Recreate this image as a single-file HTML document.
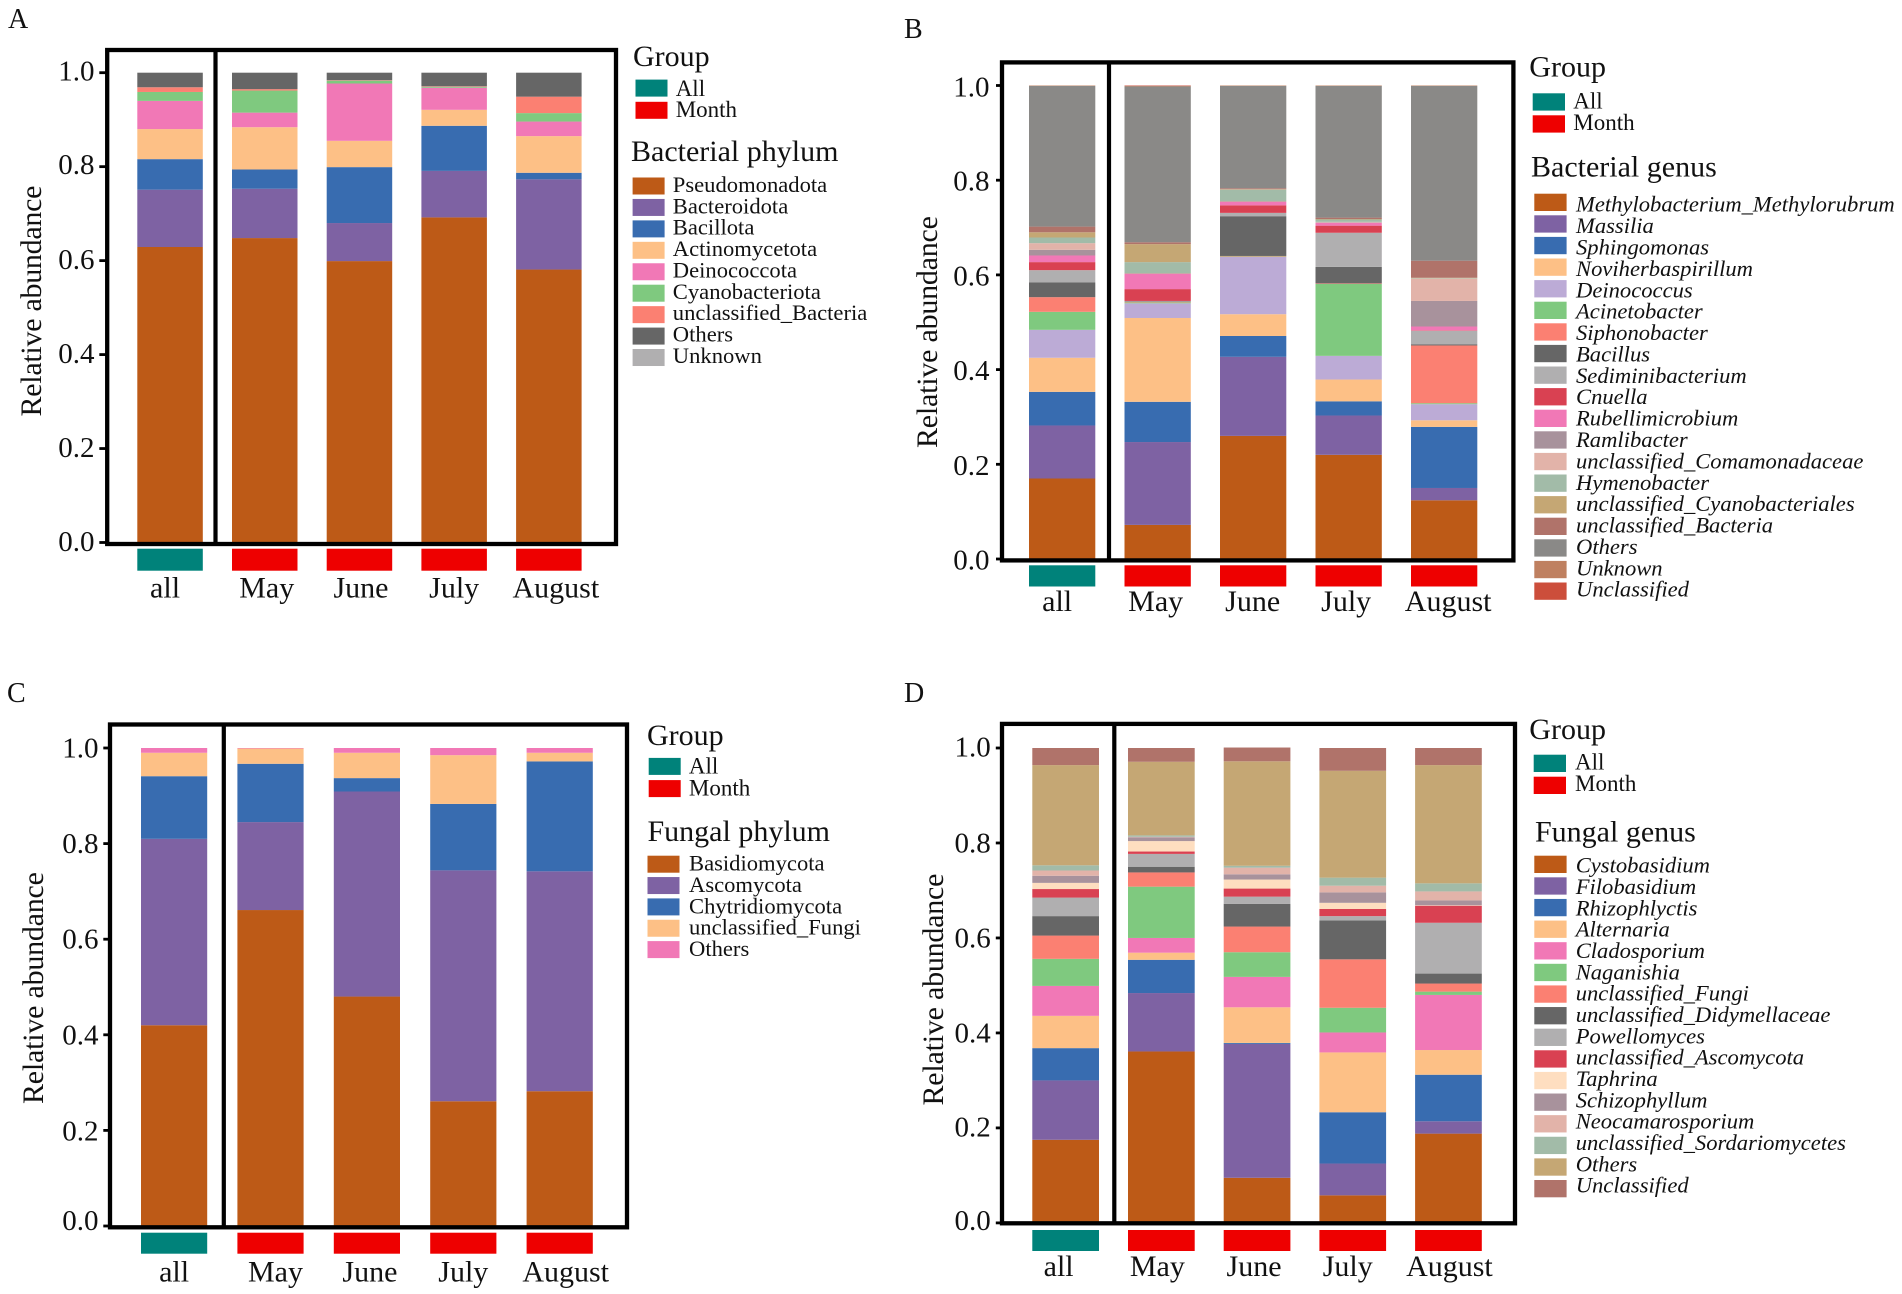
<!DOCTYPE html>
<html lang="en">
<head>
<meta charset="utf-8">
<title>Relative abundance of microbial taxa</title>
<style>
html,body{margin:0;padding:0;background:#fff;width:1902px;height:1294px;overflow:hidden}
svg{display:block}
text{font-family:"Liberation Serif","Times New Roman",serif;fill:#111}
.title{font-size:30px}
.ytitle{font-size:30px}
.letter{font-size:28px}
</style>
</head>
<body>
<svg id="figure" width="1902" height="1294" viewBox="0 0 1902 1294" xmlns="http://www.w3.org/2000/svg">
  <rect x="0" y="0" width="1902" height="1294" fill="#ffffff"/>

  <g id="panel-a">
    <text class="letter" x="8" y="28">A</text>
    <text class="ytitle" transform="translate(41,301) rotate(-90)" text-anchor="middle" textLength="231">Relative abundance</text>
    <text class="title" x="633" y="66">Group</text>
    <text class="title" x="631" y="161">Bacterial phylum</text>
  </g>
  <g id="panel-b">
    <text class="letter" x="904" y="38">B</text>
    <text class="ytitle" transform="translate(937,332) rotate(-90)" text-anchor="middle" textLength="232">Relative abundance</text>
    <text class="title" x="1529.3" y="76.7">Group</text>
    <text class="title" x="1531" y="176.7">Bacterial genus</text>
  </g>
  <g id="panel-c">
    <text class="letter" x="7" y="702">C</text>
    <text class="ytitle" transform="translate(43,988) rotate(-90)" text-anchor="middle" textLength="232">Relative abundance</text>
    <text class="title" x="647" y="745">Group</text>
    <text class="title" x="647.5" y="841">Fungal phylum</text>
  </g>
  <g id="panel-d">
    <text class="letter" x="904" y="702">D</text>
    <text class="ytitle" transform="translate(943,989.5) rotate(-90)" text-anchor="middle" textLength="232">Relative abundance</text>
    <text class="title" x="1529.3" y="739">Group</text>
    <text class="title" x="1535" y="841.7">Fungal genus</text>
  </g>
</svg>

<script>
// ---- shared categories and axis labels ----
const categories = ['all', 'May', 'June', 'July', 'August'];
const groupOfCategory = ['All', 'Month', 'Month', 'Month', 'Month'];
const groupNames = ['All', 'Month'];
const tickValues = [0, 0.2, 0.4, 0.6, 0.8, 1];
const tickLabels = ['0.0', '0.2', '0.4', '0.6', '0.8', '1.0'];

// ---- panel A: bacterial phylum (all, May, June, July, August) ----
const aNames = ['Pseudomonadota', 'Bacteroidota', 'Bacillota', 'Actinomycetota', 'Deinococcota', 'Cyanobacteriota', 'unclassified_Bacteria', 'Others', 'Unknown'];
const aPseudomonadota = [0.629, 0.648, 0.599, 0.692, 0.581];
const aBacteroidota = [0.122, 0.105, 0.081, 0.099, 0.192];
const aBacillota = [0.065, 0.041, 0.119, 0.096, 0.014];
const aActinomycetota = [0.064, 0.090, 0.056, 0.034, 0.078];
const aDeinococcota = [0.060, 0.031, 0.122, 0.047, 0.031];
const aCyanobacteriota = [0.019, 0.047, 0.006, 0.002, 0.018];
const aUnclassifiedBacteria = [0.010, 0.003, 0.001, 0.001, 0.035];
const aOthers = [0.031, 0.035, 0.016, 0.029, 0.051];
const aUnknown = [0, 0, 0, 0, 0];

// ---- panel B: bacterial genus ----
const bNames = ['Methylobacterium_Methylorubrum', 'Massilia', 'Sphingomonas', 'Noviherbaspirillum', 'Deinococcus', 'Acinetobacter', 'Siphonobacter', 'Bacillus', 'Sediminibacterium', 'Cnuella', 'Rubellimicrobium', 'Ramlibacter', 'unclassified_Comamonadaceae', 'Hymenobacter', 'unclassified_Cyanobacteriales', 'unclassified_Bacteria', 'Others', 'Unknown', 'Unclassified'];
const bMethylobacterium = [0.170, 0.072, 0.260, 0.220, 0.124];
const bMassilia = [0.112, 0.175, 0.167, 0.083, 0.026];
const bSphingomonas = [0.071, 0.085, 0.044, 0.030, 0.129];
const bNoviherbaspirillum = [0.072, 0.177, 0.046, 0.046, 0.014];
const bDeinococcus = [0.059, 0.031, 0.121, 0.050, 0.034];
const bAcinetobacter = [0.038, 0.002, 0.001, 0.152, 0.002];
const bSiphonobacter = [0.031, 0.001, 0.001, 0.001, 0.122];
const bBacillus = [0.031, 0.001, 0.084, 0.035, 0.002];
const bSediminibacterium = [0.026, 0.001, 0.007, 0.072, 0.029];
const bCnuella = [0.017, 0.025, 0.016, 0.015, 0.001];
const bRubellimicrobium = [0.014, 0.032, 0.007, 0.006, 0.008];
const bRamlibacter = [0.012, 0.001, 0.001, 0.001, 0.054];
const bComamonadaceae = [0.014, 0.001, 0.001, 0.001, 0.047];
const bHymenobacter = [0.012, 0.023, 0.024, 0.005, 0.001];
const bCyanobacteriales = [0.011, 0.038, 0.001, 0.001, 0.001];
const bUnclassifiedBacteria = [0.012, 0.004, 0.002, 0.003, 0.036];
const bOthers = [0.297, 0.329, 0.216, 0.278, 0.369];
const bUnknown = [0.001, 0.001, 0.001, 0.001, 0.001];
const bUnclassified = [0, 0.001, 0, 0, 0];

// ---- panel C: fungal phylum ----
const cNames = ['Basidiomycota', 'Ascomycota', 'Chytridiomycota', 'unclassified_Fungi', 'Others'];
const cBasidiomycota = [0.420, 0.661, 0.480, 0.261, 0.282];
const cAscomycota = [0.390, 0.184, 0.429, 0.483, 0.460];
const cChytridiomycota = [0.131, 0.122, 0.028, 0.139, 0.230];
const cUnclassifiedFungi = [0.049, 0.032, 0.053, 0.102, 0.018];
const cOthers = [0.010, 0.001, 0.010, 0.015, 0.010];

// ---- panel D: fungal genus ----
const dNames = ['Cystobasidium', 'Filobasidium', 'Rhizophlyctis', 'Alternaria', 'Cladosporium', 'Naganishia', 'unclassified_Fungi', 'unclassified_Didymellaceae', 'Powellomyces', 'unclassified_Ascomycota', 'Taphrina', 'Schizophyllum', 'Neocamarosporium', 'unclassified_Sordariomycetes', 'Others', 'Unclassified'];
const dCystobasidium = [0.175, 0.361, 0.095, 0.058, 0.188];
const dFilobasidium = [0.125, 0.123, 0.282, 0.067, 0.026];
const dRhizophlyctis = [0.068, 0.070, 0.002, 0.108, 0.098];
const dAlternaria = [0.068, 0.015, 0.075, 0.126, 0.052];
const dCladosporium = [0.063, 0.031, 0.064, 0.042, 0.116];
const dNaganishia = [0.057, 0.108, 0.052, 0.052, 0.007];
const dUnclassifiedFungi = [0.049, 0.030, 0.054, 0.102, 0.017];
const dDidymellaceae = [0.041, 0.012, 0.048, 0.082, 0.021];
const dPowellomyces = [0.039, 0.027, 0.015, 0.009, 0.107];
const dAscomycota = [0.018, 0.005, 0.017, 0.015, 0.036];
const dTaphrina = [0.013, 0.022, 0.019, 0.013, 0.001];
const dSchizophyllum = [0.015, 0.008, 0.011, 0.022, 0.010];
const dNeocamarosporium = [0.011, 0.001, 0.014, 0.014, 0.019];
const dSordariomycetes = [0.011, 0.003, 0.004, 0.017, 0.017];
const dOthers = [0.211, 0.155, 0.220, 0.225, 0.249];
const dUnclassified = [0.036, 0.029, 0.029, 0.048, 0.036];

// ---- styling (colours per legend position) ----
const groupColors = {All: '#00827A', Month: '#EE0000'};
const paletteA = ['#BD5A17', '#7E62A3', '#386CB0', '#FDC086', '#F178B6', '#7FC97F', '#FB8072', '#666666', '#B0AFB0'];
const paletteB = ['#BD5A17', '#7E62A3', '#386CB0', '#FDC086', '#BCABD6', '#7FC97F', '#FB8072', '#666666', '#B0AFB0', '#D94152', '#F178B6', '#A8929C', '#E2B3A9', '#A2BBA8', '#C5A774', '#B0736A', '#8A8987', '#BF8060', '#CC4E3B'];
const paletteC = ['#BD5A17', '#7E62A3', '#386CB0', '#FDC086', '#F178B6'];
const paletteD = ['#BD5A17', '#7E62A3', '#386CB0', '#FDC086', '#F178B6', '#7FC97F', '#FB8072', '#666666', '#B0AFB0', '#D94152', '#FEDEC0', '#A8929C', '#E2B3A9', '#A2BBA8', '#C5A774', '#B0736A'];

const SVG_NS = 'http://www.w3.org/2000/svg';

function makeRect(parent, x, y, w, h, fill) {
  const el = document.createElementNS(SVG_NS, 'rect');
  el.setAttribute('x', x);
  el.setAttribute('y', y);
  el.setAttribute('width', w);
  el.setAttribute('height', h);
  el.setAttribute('fill', fill);
  parent.appendChild(el);
  return el;
}

function makeText(parent, x, y, size, content, anchor, italic) {
  const el = document.createElementNS(SVG_NS, 'text');
  el.setAttribute('x', x);
  el.setAttribute('y', y);
  el.setAttribute('font-size', size);
  if (anchor) el.setAttribute('text-anchor', anchor);
  if (italic) el.setAttribute('font-style', 'italic');
  el.textContent = content;
  parent.appendChild(el);
  return el;
}

function drawPanel(p) {
  const root = document.getElementById(p.id);
  const xBand = i => p.barStart + i * p.barStep;
  const yScale = v => p.yZero - v * (p.yZero - p.yOne);

  // stacked bars
  categories.forEach((cat, i) => {
    const stack = document.createElementNS(SVG_NS, 'g');
    
    
    root.appendChild(stack);
    let cumulative = 0;
    p.series.forEach((values, s) => {
      const v = values[i];
      if (v <= 0) return;
      const yTop = yScale(cumulative + v);
      const yBottom = yScale(cumulative);
      const seg = makeRect(stack, xBand(i), yTop, p.barWidth, yBottom - yTop, p.palette[s]);
      
      
      cumulative += v;
    });

    // group colour strip below each bar
    const strip = makeRect(root, xBand(i), p.stripTop, p.barWidth, p.stripHeight, groupColors[groupOfCategory[i]]);
    
    

    // category label
    const label = makeText(root, xBand(i) + p.barWidth / 2 + p.labelNudge[i], p.labelBaseline, 30, cat, 'middle', false);
    
    
  });

  // plot frame
  const frame = document.createElementNS(SVG_NS, 'rect');
  frame.setAttribute('x', p.frameLeft);
  frame.setAttribute('y', p.frameTop);
  frame.setAttribute('width', p.frameRight - p.frameLeft);
  frame.setAttribute('height', p.frameBottom - p.frameTop);
  frame.setAttribute('fill', 'none');
  frame.setAttribute('stroke', '#000');
  frame.setAttribute('stroke-width', 4.3);
  
  
  root.appendChild(frame);

  // divider between "all" and the months
  const divider = makeRect(root, p.dividerX - 2.1, p.frameTop, 4.2, p.frameBottom - p.frameTop, '#000');
  
  

  // y ticks and labels
  tickValues.forEach((v, k) => {
    const tick = makeRect(root, p.tickLeft, yScale(v) - 1.4, p.frameLeft - p.tickLeft, 2.8, '#000');
    
    
    const tl = makeText(root, p.tickLabelRight, yScale(v) + 9.5 + p.tickLabelNudge[k], 29, tickLabels[k], 'end', false);
    
    
  });

  // Group legend
  groupNames.forEach((g, k) => {
    const y = p.groupTop + k * p.groupStep;
    const sw = makeRect(root, p.groupSwatchX, y, p.swatchW, p.swatchH, groupColors[g]);
    
    
    const lb = makeText(root, p.groupLabelX, p.groupLabelTop + k * p.groupLabelStep, 23, g, 'start', false);
    
    
  });

  // taxon legend
  p.names.forEach((name, k) => {
    const y = p.legendTop + k * p.legendStep;
    const sw = makeRect(root, p.legendSwatchX, y, p.swatchW, p.swatchH, p.palette[k]);
    
    
    const lb = makeText(root, p.legendLabelX, p.legendLabelTop + k * p.legendLabelStep, 22.6, name, 'start', p.italic);
    
    
  });
}

drawPanel({
  id: 'panel-a', names: aNames, palette: paletteA, italic: false,
  series: [aPseudomonadota, aBacteroidota, aBacillota, aActinomycetota, aDeinococcota, aCyanobacteriota, aUnclassifiedBacteria, aOthers, aUnknown],
  barStart: 137.3, barStep: 94.7, barWidth: 65.5, yZero: 542.5, yOne: 72.7,
  frameLeft: 107.2, frameRight: 616, frameTop: 50, frameBottom: 544,
  dividerX: 215.5, stripTop: 548.7, stripHeight: 22, labelBaseline: 597.3, labelNudge: [-5, 2, 1.5, 0, 7],
  tickLeft: 99.3, tickLabelRight: 94.5, tickLabelNudge: [-0.8, -1, -1, -1, -2, -1.5],
  groupTop: 79.6, groupStep: 22.2, groupSwatchX: 635.5, groupLabelX: 675.7, groupLabelTop: 96.2, groupLabelStep: 21,
  legendTop: 177.5, legendStep: 21.44, legendSwatchX: 632.6, legendLabelX: 672.8, legendLabelTop: 192, legendLabelStep: 21.35,
  swatchW: 32, swatchH: 17
});
drawPanel({
  id: 'panel-b', names: bNames, palette: paletteB, italic: true,
  series: [bMethylobacterium, bMassilia, bSphingomonas, bNoviherbaspirillum, bDeinococcus, bAcinetobacter, bSiphonobacter, bBacillus, bSediminibacterium, bCnuella, bRubellimicrobium, bRamlibacter, bComamonadaceae, bHymenobacter, bCyanobacteriales, bUnclassifiedBacteria, bOthers, bUnknown, bUnclassified],
  barStart: 1029, barStep: 95.5, barWidth: 66.3, yZero: 559, yOne: 85.5,
  frameLeft: 1002, frameRight: 1513.4, frameTop: 62.4, frameBottom: 560.4,
  dividerX: 1109, stripTop: 565.3, stripHeight: 21.2, labelBaseline: 611, labelNudge: [-5, -2, -0.5, -2.5, 4],
  tickLeft: 996, tickLabelRight: 989.5, tickLabelNudge: [1.2, 1, 1, 1, 1, 1.5],
  groupTop: 93.3, groupStep: 22, groupSwatchX: 1532.7, groupLabelX: 1573.3, groupLabelTop: 108.3, groupLabelStep: 21.7,
  legendTop: 193.7, legendStep: 21.6, legendSwatchX: 1534.3, legendLabelX: 1576, legendLabelTop: 211.7, legendLabelStep: 21.39,
  swatchW: 32.3, swatchH: 17.3
});
drawPanel({
  id: 'panel-c', names: cNames, palette: paletteC, italic: false,
  series: [cBasidiomycota, cAscomycota, cChytridiomycota, cUnclassifiedFungi, cOthers],
  barStart: 141, barStep: 96.4, barWidth: 66.2, yZero: 1226, yOne: 748,
  frameLeft: 110, frameRight: 627, frameTop: 724.5, frameBottom: 1227.3,
  dividerX: 223.8, stripTop: 1232.7, stripHeight: 21, labelBaseline: 1281.7, labelNudge: [0, 5, 3, 0, 6],
  tickLeft: 103.3, tickLabelRight: 98.5, tickLabelNudge: [-5.5, 0.5, 0, 0, 0, 0],
  groupTop: 757.9, groupStep: 22.2, groupSwatchX: 648.7, groupLabelX: 688.9, groupLabelTop: 773.3, groupLabelStep: 22.2,
  legendTop: 855.7, legendStep: 21.35, legendSwatchX: 647.5, legendLabelX: 689, legendLabelTop: 870.7, legendLabelStep: 21.3,
  swatchW: 32, swatchH: 17
});
drawPanel({
  id: 'panel-d', names: dNames, palette: paletteD, italic: true,
  series: [dCystobasidium, dFilobasidium, dRhizophlyctis, dAlternaria, dCladosporium, dNaganishia, dUnclassifiedFungi, dDidymellaceae, dPowellomyces, dAscomycota, dTaphrina, dSchizophyllum, dNeocamarosporium, dSordariomycetes, dOthers, dUnclassified],
  barStart: 1032.3, barStep: 95.7, barWidth: 66.7, yZero: 1222.9, yOne: 748,
  frameLeft: 1002, frameRight: 1515, frameTop: 723.9, frameBottom: 1223.3,
  dividerX: 1114.3, stripTop: 1230, stripHeight: 21, labelBaseline: 1276, labelNudge: [-7, -4, -3, -5, 1],
  tickLeft: 995.8, tickLabelRight: 990.7, tickLabelNudge: [-2.4, -1, 0, 0, 0, -1],
  groupTop: 754.7, groupStep: 22, groupSwatchX: 1533.7, groupLabelX: 1575, groupLabelTop: 769.3, groupLabelStep: 21.7,
  legendTop: 855.7, legendStep: 21.62, legendSwatchX: 1534.3, legendLabelX: 1575.7, legendLabelTop: 872.7, legendLabelStep: 21.33,
  swatchW: 32.3, swatchH: 17.3
});
</script>
</body>
</html>
